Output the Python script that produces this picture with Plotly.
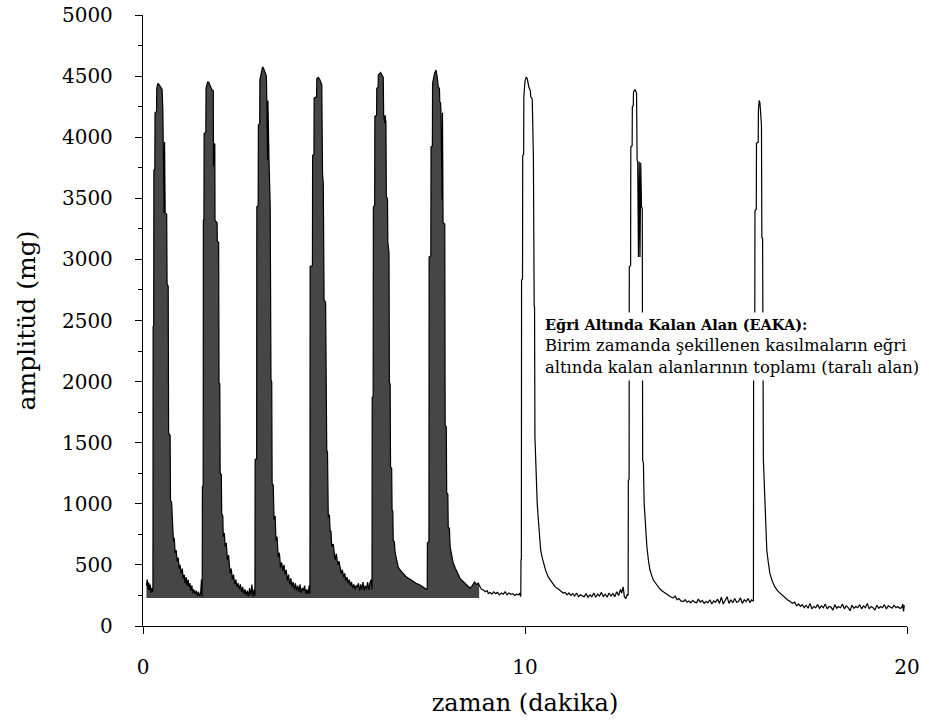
import plotly.graph_objects as go

# --- data (time in minutes, amplitude in mg) ---
time_min = [
    0.09, 0.11, 0.13, 0.15, 0.17, 0.19, 0.21, 0.23, 0.25,
    0.26, 0.265, 0.28, 0.285, 0.31, 0.315, 0.355, 0.36, 0.39, 0.42, 0.45, 0.50,
    0.52, 0.535, 0.55, 0.565, 0.58, 0.62, 0.63, 0.66, 0.67, 0.71, 0.72, 0.75,
    0.76, 0.78, 0.80, 0.82, 0.84, 0.87, 0.89, 0.92, 0.95, 0.97, 1.00, 1.03,
    1.05, 1.08, 1.10, 1.13, 1.15, 1.18, 1.20, 1.23, 1.25, 1.28, 1.30, 1.33,
    1.36, 1.39, 1.42, 1.45, 1.48, 1.51, 1.53, 1.545,
    1.55, 1.555, 1.575, 1.58, 1.595, 1.60, 1.645, 1.65, 1.69, 1.72, 1.76, 1.80,
    1.84, 1.845, 1.86, 1.88, 1.885, 1.94, 1.945, 1.98, 1.99, 2.01, 2.02, 2.05,
    2.06, 2.09, 2.10, 2.13, 2.15, 2.18, 2.21, 2.24, 2.28, 2.31, 2.34, 2.37,
    2.40, 2.43, 2.46, 2.49, 2.52, 2.55, 2.58, 2.61, 2.64, 2.67, 2.70, 2.73,
    2.76, 2.79, 2.82, 2.85, 2.88, 2.91, 2.925,
    2.93, 2.935, 2.975, 2.98, 3.015, 3.02, 3.055, 3.06, 3.10, 3.13, 3.16, 3.19,
    3.23, 3.24, 3.26, 3.27, 3.29, 3.30, 3.33, 3.35, 3.37, 3.38, 3.41, 3.43,
    3.46, 3.48, 3.51, 3.54, 3.57, 3.60, 3.63, 3.66, 3.69, 3.72, 3.75, 3.78,
    3.81, 3.84, 3.87, 3.90, 3.93, 3.96, 3.99, 4.02, 4.05, 4.08, 4.11, 4.14,
    4.17, 4.20, 4.23, 4.26, 4.29, 4.32, 4.35, 4.365,
    4.37, 4.375, 4.435, 4.44, 4.475, 4.48, 4.545, 4.55, 4.59, 4.63, 4.68, 4.70,
    4.72, 4.74, 4.78, 4.81, 4.83, 4.85, 4.88, 4.90, 4.92, 4.94, 4.98, 5.03,
    5.06, 5.10, 5.13, 5.16, 5.19, 5.22, 5.25, 5.28, 5.31, 5.34, 5.37, 5.40,
    5.43, 5.46, 5.49, 5.52, 5.55, 5.58, 5.61, 5.64, 5.67, 5.70, 5.73, 5.76,
    5.79, 5.82, 5.85, 5.88, 5.91, 5.94, 5.97, 5.995,
    6.00, 6.025, 6.03, 6.065, 6.07, 6.115, 6.12, 6.155, 6.16, 6.22, 6.26, 6.29,
    6.30, 6.33, 6.34, 6.36, 6.37, 6.40, 6.41, 6.42, 6.44, 6.45, 6.47, 6.48,
    6.51, 6.52, 6.54, 6.55, 6.58, 6.60, 6.64, 6.68, 6.74, 6.81, 6.88, 6.95,
    7.02, 7.08, 7.15, 7.25, 7.32, 7.38, 7.42, 7.435,
    7.44, 7.445, 7.485, 7.49, 7.535, 7.54, 7.575, 7.58, 7.63, 7.67, 7.70, 7.73,
    7.76, 7.77, 7.79, 7.80, 7.83, 7.84, 7.85, 7.855, 7.90, 7.91, 7.94, 7.95,
    7.98, 7.99, 8.02, 8.04, 8.08, 8.12, 8.18, 8.25, 8.30, 8.36, 8.43, 8.50,
    8.56, 8.62, 8.68, 8.73, 8.78, 8.80, 8.82, 8.86, 8.91, 8.96, 9.01, 9.04,
    9.08, 9.13, 9.18, 9.23, 9.28, 9.33, 9.38, 9.43, 9.48, 9.53, 9.58, 9.63,
    9.68, 9.73, 9.78, 9.82, 9.86, 9.885,
    9.89, 9.895, 9.905, 9.91, 9.935, 9.94, 9.965, 9.97, 10.00, 10.03, 10.06, 10.10,
    10.14, 10.15, 10.18, 10.19, 10.21, 10.22, 10.24, 10.25, 10.26, 10.27, 10.29, 10.32,
    10.35, 10.38, 10.41, 10.45, 10.48, 10.54, 10.61, 10.70, 10.79, 10.88, 10.95, 11.00,
    11.05, 11.10, 11.15, 11.20, 11.25, 11.30, 11.35, 11.40, 11.45, 11.50, 11.55, 11.60,
    11.65, 11.70, 11.75, 11.80, 11.85, 11.90, 11.95, 12.00, 12.05, 12.10, 12.15, 12.20,
    12.25, 12.30, 12.35, 12.40, 12.45, 12.50, 12.53, 12.57, 12.60, 12.64, 12.68, 12.70,
    12.705, 12.725, 12.73, 12.765, 12.77, 12.805, 12.81, 12.835, 12.84, 12.88, 12.91, 12.92,
    12.935, 12.95, 12.97, 12.99, 13.01, 13.03, 13.05, 13.07, 13.08, 13.10, 13.12, 13.14,
    13.17, 13.19, 13.23, 13.27, 13.32, 13.36, 13.42, 13.48, 13.54, 13.60, 13.66, 13.72,
    13.78, 13.83, 13.88, 13.93, 13.98, 14.03, 14.08, 14.14, 14.19, 14.24, 14.29, 14.34,
    14.39, 14.44, 14.49, 14.54, 14.59, 14.64, 14.69, 14.74, 14.79, 14.84, 14.89, 14.94,
    14.99, 15.04, 15.09, 15.14, 15.19, 15.24, 15.29, 15.34, 15.39, 15.44, 15.49, 15.54,
    15.59, 15.64, 15.69, 15.74, 15.79, 15.84, 15.89, 15.93, 15.97,
    15.98, 15.985, 16.015, 16.02, 16.055, 16.06, 16.105, 16.11, 16.13, 16.15, 16.17, 16.19,
    16.20, 16.22, 16.24, 16.26, 16.28, 16.31, 16.33, 16.37, 16.41, 16.47, 16.54, 16.62,
    16.72, 16.80, 16.87, 16.94, 17.00, 17.06, 17.11, 17.16, 17.21, 17.26, 17.31, 17.36,
    17.41, 17.46, 17.51, 17.56, 17.61, 17.66, 17.71, 17.76, 17.81, 17.86, 17.91, 17.96,
    18.01, 18.06, 18.11, 18.16, 18.21, 18.26, 18.31, 18.36, 18.41, 18.46, 18.51, 18.56,
    18.61, 18.66, 18.71, 18.76, 18.81, 18.86, 18.91, 18.96, 19.01, 19.06, 19.11, 19.16,
    19.21, 19.26, 19.31, 19.36, 19.41, 19.46, 19.51, 19.56, 19.61, 19.66, 19.71, 19.76,
    19.81, 19.86, 19.89, 19.91, 19.93,
]

amplitude_mg = [
    330, 380, 300, 355, 290, 340, 270, 310, 280,
    300, 2450, 2460, 3730, 3740, 4200, 4210, 4400, 4440, 4430, 4410, 4390,
    4220, 3960, 3380, 3960, 3380, 3370, 2800, 2780, 1580, 1560, 1030, 1010,
    820, 800, 690, 720, 600, 620, 530, 560, 470, 500, 430, 470,
    390, 420, 350, 400, 330, 380, 320, 350, 290, 330, 270, 300,
    260, 290, 250, 280, 245, 270, 380, 250,
    240, 1140, 1150, 3320, 3330, 4030, 4040, 4400, 4450, 4450, 4420, 4390,
    4380, 3760, 3950, 3940, 3320, 3300, 3150, 3140, 1990, 1980, 1250, 1240,
    920, 900, 730, 760, 650, 680, 540, 580, 430, 470, 380, 420,
    340, 380, 320, 350, 300, 340, 280, 320, 260, 300, 250, 290,
    240, 310, 250, 340, 240, 300, 245,
    245, 1360, 1370, 3430, 3440, 4100, 4110, 4470, 4520, 4575, 4560, 4525,
    4500, 4300, 3810, 4300, 3810, 3800, 3430, 2010, 2000, 1170, 1150, 870,
    900, 700, 730, 565, 600, 480, 520, 450, 500, 420, 460, 370,
    420, 340, 390, 320, 360, 300, 350, 290, 330, 280, 340, 270,
    310, 290, 330, 265, 300, 260, 330, 265,
    265, 2940, 2950, 3850, 3860, 4320, 4330, 4480, 4490, 4470, 4430, 3700,
    3620, 2670, 2650, 1440, 1420, 890, 910, 770, 780, 650, 670, 540,
    590, 500, 530, 480, 430, 460, 400, 430, 370, 400, 350, 380,
    330, 360, 310, 340, 300, 330, 320, 350, 290, 340, 300, 360,
    290, 330, 300, 360, 295, 350, 380, 300,
    1870, 1880, 3430, 3440, 4170, 4180, 4400, 4410, 4510, 4530, 4510, 4490,
    4180, 4115, 4180, 4115, 3510, 3500, 3140, 3060, 3050, 1990, 1980, 1300,
    1290, 950, 940, 700, 690, 600, 540, 483, 455, 430, 405, 390,
    375, 360, 350, 335, 325, 310, 300, 305,
    300, 680, 690, 3020, 3030, 3920, 3930, 4440, 4520, 4550, 4500, 4410,
    4400, 4290, 4280, 4220, 3490, 4200, 3490, 3300, 3290, 1640, 1630, 1090,
    1080, 810, 800, 650, 580, 515, 470, 430, 390, 370, 350, 330,
    310, 330, 360, 340, 350, 335, 320, 300, 295, 280, 290, 265,
    275, 260, 280, 265, 275, 255, 270, 260, 280, 255, 270, 260,
    265, 250, 260, 255, 265, 240,
    250, 540, 550, 2830, 2840, 3850, 3860, 4330, 4460, 4490, 4480, 4410,
    4380, 4330, 4320, 4300, 3870, 3840, 2620, 2610, 1550, 1440, 1170, 1000,
    870, 720, 620, 560, 515, 455, 400, 360, 320, 300, 280, 270,
    275, 255, 270, 250, 265, 245, 270, 240, 255, 250, 240, 265,
    235, 255, 240, 270, 235, 260, 245, 275, 240, 260, 235, 270,
    245, 265, 240, 280, 250, 300, 270, 320, 240, 225, 260, 250,
    1190, 1200, 2940, 2950, 3920, 3930, 4250, 4260, 4370, 4390, 4370, 4360,
    3810, 3800, 3020, 3800, 3020, 3790, 3430, 3420, 1360, 1330, 1000, 890,
    750, 650, 540, 460, 410, 376, 350, 320, 300, 285, 270, 260,
    245, 235, 230, 245, 215, 225, 205, 200, 215, 195, 205, 190,
    210, 195, 190, 220, 195, 210, 185, 200, 190, 215, 180, 205,
    195, 220, 185, 235, 180, 210, 240, 185, 215, 190, 225, 195,
    200, 230, 185, 215, 200, 225, 190, 213, 205,
    210, 2400, 2410, 3400, 3410, 3950, 3960, 4220, 4300, 4280, 4110, 4100,
    3180, 3170, 1360, 1200, 1030, 800, 620, 520, 430, 370, 320, 285,
    255, 230, 215, 200, 185, 195, 165, 180, 160, 175, 150, 170,
    145, 185, 140, 160, 150, 175, 145, 165, 150, 180, 140, 160,
    155, 130, 175, 145, 160, 150, 180, 140, 165, 150, 125, 170,
    145, 160, 150, 175, 140, 165, 150, 185, 140, 160, 150, 130,
    170, 145, 160, 150, 175, 140, 165, 155, 145, 170, 150, 160,
    145, 150, 180, 120, 170,
]

FILL_BASE = 230      # mg, lower edge of the shaded area
FILL_START = 0.09    # min
FILL_END = 8.80      # min

x_ticks = [0, 10, 20]
y_ticks = [0, 500, 1000, 1500, 2000, 2500, 3000, 3500, 4000, 4500, 5000]

annotation_text = ("<span style='font-size:14.5px'><b>Eğri Altında Kalan Alan (EAKA):</b></span><br>"
                   "Birim zamanda şekillenen kasılmaların eğri<br>"
                   "altında kalan alanlarının toplamı (taralı alan)")

# --- shaded subset ---
fill_t = [t for t in time_min if t <= FILL_END]
fill_a = amplitude_mg[:len(fill_t)]

FONT = "DejaVu Serif, Georgia, serif"

fig = go.Figure()
fig.add_trace(go.Scatter(x=[FILL_START, FILL_END], y=[FILL_BASE, FILL_BASE],
                         mode="lines", line=dict(width=0, color="rgba(0,0,0,0)"),
                         hoverinfo="skip", showlegend=False))
fig.add_trace(go.Scatter(x=fill_t, y=fill_a, mode="lines",
                         line=dict(width=0, color="#464646"),
                         fill="tonexty", fillcolor="#464646",
                         hoverinfo="skip", showlegend=False))
fig.add_trace(go.Scatter(x=time_min, y=amplitude_mg, mode="lines",
                         line=dict(width=1.2, color="#000000"),
                         showlegend=False))

fig.add_annotation(text=annotation_text, xref="paper", yref="paper",
                   x=(541 - 143) / 764, y=(626 - 312) / 611,
                   xanchor="left", yanchor="top", align="left",
                   showarrow=False, bgcolor="white", borderpad=3,
                   font=dict(family=FONT, size=16.4, color="black"))

axis_common = dict(showline=True, linecolor="black", linewidth=1.3,
                   ticks="outside", tickcolor="black", tickwidth=1.3,
                   showgrid=False, zeroline=False, mirror=False,
                   automargin=False)

fig.update_xaxes(range=[0, 20], tickvals=x_ticks, ticklen=7,
                 ticklabelstandoff=16,
                 tickfont=dict(family=FONT, size=20, color="black"),
                 title=dict(text="zaman (dakika)", standoff=16,
                            font=dict(family=FONT, size=24, color="black")),
                 **axis_common)
fig.update_yaxes(range=[0, 5000], tickvals=y_ticks, ticklen=7,
                 ticklabelstandoff=18,
                 minor=dict(dtick=250, tick0=0, ticks="outside", ticklen=4,
                            tickcolor="black", tickwidth=1.3, showgrid=False),
                 tickfont=dict(family=FONT, size=20, color="black"),
                 title=dict(text="amplitüd (mg)", standoff=19,
                            font=dict(family=FONT, size=25, color="black")),
                 **axis_common)

fig.update_layout(width=929, height=722,
                  margin=dict(l=143, r=22, t=15, b=96, autoexpand=False),
                  paper_bgcolor="white", plot_bgcolor="white",
                  showlegend=False)

fig.write_html("out.html")
